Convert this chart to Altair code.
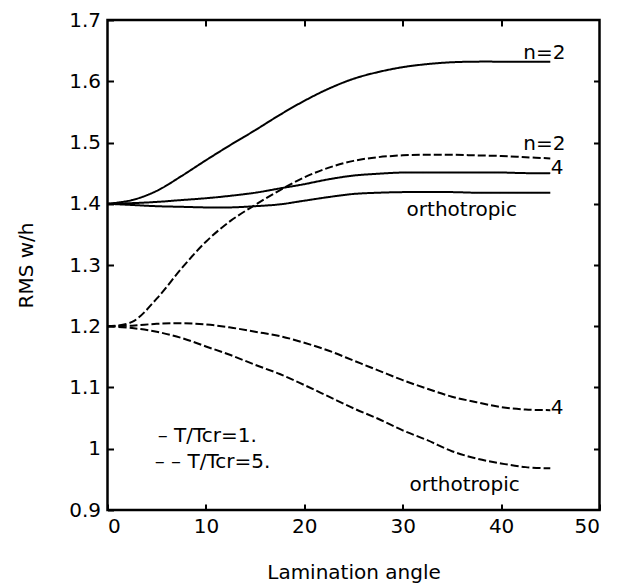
import altair as alt
import pandas as pd

# Lamination angle (deg) at which RMS w/h was evaluated
angles = [0, 2.5, 5, 7.5, 10, 12.5, 15, 17.5, 20, 22.5, 25, 27.5, 30,
          32.5, 35, 37.5, 40, 42.5, 45]

# T/Tcr = 1 (solid)
t1_n2 = [1.400, 1.406, 1.421, 1.445, 1.471, 1.496, 1.520, 1.545, 1.568, 1.588,
         1.604, 1.615, 1.623, 1.628, 1.631, 1.632, 1.632, 1.632, 1.632]
t1_n4 = [1.400, 1.401, 1.403, 1.406, 1.409, 1.413, 1.418, 1.425, 1.432, 1.440,
         1.446, 1.449, 1.451, 1.451, 1.451, 1.451, 1.451, 1.450, 1.450]
t1_orth = [1.400, 1.398, 1.396, 1.395, 1.394, 1.394, 1.396, 1.399, 1.405, 1.411,
           1.416, 1.418, 1.419, 1.419, 1.419, 1.418, 1.418, 1.418, 1.418]

# T/Tcr = 5 (dashed)
t5_n2 = [1.200, 1.207, 1.245, 1.294, 1.338, 1.372, 1.398, 1.422, 1.443, 1.459,
         1.470, 1.476, 1.479, 1.480, 1.480, 1.479, 1.478, 1.476, 1.474]
t5_n4 = [1.200, 1.201, 1.204, 1.205, 1.203, 1.198, 1.191, 1.184, 1.173, 1.160,
         1.144, 1.128, 1.112, 1.098, 1.085, 1.076, 1.068, 1.064, 1.063]
t5_orth = [1.200, 1.197, 1.191, 1.181, 1.167, 1.153, 1.137, 1.122, 1.104, 1.085,
           1.066, 1.049, 1.030, 1.014, 0.996, 0.984, 0.976, 0.970, 0.968]

series = [
    ("T/Tcr=1.", "n=2", t1_n2),
    ("T/Tcr=1.", "n=4", t1_n4),
    ("T/Tcr=1.", "orthotropic", t1_orth),
    ("T/Tcr=5.", "n=2", t5_n2),
    ("T/Tcr=5.", "n=4", t5_n4),
    ("T/Tcr=5.", "orthotropic", t5_orth),
]

rows = []
for load, lam, vals in series:
    for a, v in zip(angles, vals):
        rows.append({"angle": a, "rms": v, "load": load, "series": load + " " + lam})
df = pd.DataFrame(rows)

# curve annotations (centered) and the in-plot key (left aligned)
curve_text = ["n=2", "n=2", "4", "orthotropic", "4", "orthotropic"]
curve_x = [44.4, 44.4, 45.7, 36.0, 45.7, 36.3]
curve_y = [1.637, 1.488, 1.448, 1.380, 1.057, 0.931]
key_text = ["\u2013  T/Tcr=1.", "\u2013 \u2013 T/Tcr=5."]
key_x = [5.1, 4.8]
key_y = [1.0105, 0.968]

curve_df = pd.DataFrame({"lx": curve_x, "ly": curve_y, "txt": curve_text})
key_df = pd.DataFrame({"lx": key_x, "ly": key_y, "txt": key_text})

FONT = "DejaVu Sans"
W, H = 492, 490

xs = alt.Scale(domain=[0, 50], nice=False, zero=False)
ys = alt.Scale(domain=[0.9, 1.7], nice=False, zero=False)
xticks = [0, 10, 20, 30, 40, 50]
yticks = [0.9, 1.0, 1.1, 1.2, 1.3, 1.4, 1.5, 1.6, 1.7]

common = dict(domain=False, grid=False, tickColor="black", tickWidth=2,
              tickSize=6, offset=-6, labelFont=FONT, labelFontSize=20,
              labelColor="black", titleFont=FONT, titleFontSize=20,
              titleFontWeight="normal", titleColor="black")

ax_bottom = alt.Axis(orient="bottom", values=xticks, format="d", labelPadding=6,
                     title="Lamination angle", titleBaseline="alphabetic",
                     titleAnchor="middle", titleX=W / 2, titleY=74, **common)
ax_left = alt.Axis(orient="left", values=yticks, format=".2~f", labelPadding=7,
                   title="RMS w/h", titleBaseline="alphabetic", titleAngle=-90,
                   titleX=-81.5, titleY=H / 2, titleAnchor="middle", **common)
ax_top = alt.Axis(orient="top", values=[10, 20, 30, 40], labels=False, title=None,
                  **common)
ax_right = alt.Axis(orient="right", values=[1.0, 1.1, 1.2, 1.3, 1.4, 1.5, 1.6],
                    labels=False, title=None, **common)

lines = alt.Chart(df).mark_line(color="black", strokeWidth=2,
                                interpolate="catmull-rom").encode(
    x=alt.X("angle:Q", scale=xs, axis=ax_bottom),
    y=alt.Y("rms:Q", scale=ys, axis=ax_left),
    strokeDash=alt.StrokeDash("load:N", legend=None,
                              scale=alt.Scale(domain=["T/Tcr=1.", "T/Tcr=5."],
                                              range=[[1, 0], [8, 3]])),
    detail="series:N",
)

curve_labels = alt.Chart(curve_df).mark_text(
    font=FONT, fontSize=20, color="black", align="center", baseline="alphabetic"
).encode(
    x=alt.X("lx:Q", scale=xs, axis=ax_top),
    y=alt.Y("ly:Q", scale=ys, axis=ax_right),
    text="txt:N",
)

key_labels = alt.Chart(key_df).mark_text(
    font=FONT, fontSize=20, color="black", align="left", baseline="alphabetic"
).encode(
    x=alt.X("lx:Q", scale=xs, axis=None),
    y=alt.Y("ly:Q", scale=ys, axis=None),
    text="txt:N",
)

chart = alt.layer(lines, curve_labels, key_labels).resolve_axis(
    x="independent", y="independent"
).properties(
    width=W, height=H,
    autosize=alt.AutoSizeParams(type="none"),
    padding={"left": 107.5, "top": 20, "right": 33.5, "bottom": 77},
    background="white",
).configure_view(stroke="black", strokeWidth=2.5)

chart.save("out.html", embed_options={"renderer": "svg", "actions": False})
